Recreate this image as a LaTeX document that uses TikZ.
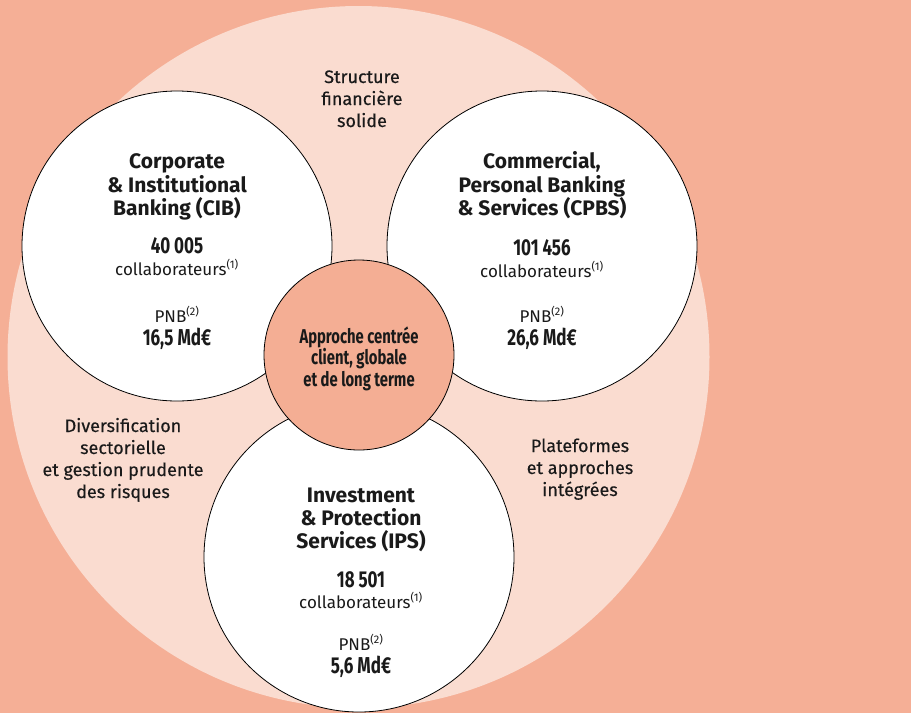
\documentclass[tikz,border=0pt]{standalone}
\usepackage{fontspec}
\setmainfont{Fira Sans}
\setsansfont{Fira Sans}
\newfontfamily\cond[FakeStretch=0.74]{Fira Sans}
\newfontfamily\sidefont[FakeBold=0.35]{Fira Sans}
\definecolor{bgsalmon}{HTML}{F5AF96}
\definecolor{lightpink}{HTML}{FADCD0}
\definecolor{centresalmon}{HTML}{F4AE94}
\definecolor{inktext}{HTML}{1A1A1A}
\tikzset{
  pole/.style={circle,draw=black,line width=0.8pt,fill=white,minimum size=310pt,inner sep=0pt},
  hub/.style={circle,draw=black,line width=0.8pt,fill=centresalmon,minimum size=190pt,inner sep=0pt},
  ttl/.style={anchor=base,inner sep=0pt,text=inktext,font=\fontsize{21}{24}\selectfont\bfseries},
  num/.style={anchor=base,inner sep=0pt,text=inktext,font=\fontsize{23}{26}\selectfont\cond\bfseries},
  lbl/.style={anchor=base,inner sep=0pt,text=inktext,font=\fontsize{17}{20}\selectfont},
  hubtxt/.style={anchor=base,inner sep=0pt,text=inktext,font=\fontsize{20}{22}\selectfont\cond\bfseries},
  side/.style={anchor=base,inner sep=0pt,text=inktext,font=\fontsize{18}{21}\selectfont\sidefont},
}
\newcommand{\supnote}[1]{\textsuperscript{\fontsize{11}{11}\selectfont(#1)}}
\begin{document}
\begin{tikzpicture}[x=1pt,y=-1pt]
\useasboundingbox (0,0) rectangle (911,713);
\fill[bgsalmon] (0,0) rectangle (911,713);
\fill[lightpink] (358.5,357) circle[radius=351];
\node[pole] (cib) at (177,246) {};
\node[pole] (cpbs) at (542,246) {};
\node[pole] (ips) at (359,557) {};
\node[hub] (hub) at (359,355) {};
% hub text
\node[hubtxt] (h1) at (359,343) {Approche centrée};
\node[hubtxt] (h2) at (359,364) {client, globale};
\node[hubtxt] (h3) at (359,386) {et de long terme};
% CIB
\node[ttl] (cib1) at (177,168) {Corporate};
\node[ttl] (cib2) at (177,192) {\& Institutional};
\node[ttl] (cib3) at (177,215) {Banking (CIB)};
\node[num] (cib4) at (177,253) {40\,005};
\node[lbl] (cib5) at (177,275) {collaborateurs\supnote{1}};
\node[lbl] (cib6) at (177,322) {PNB\supnote{2}};
\node[num] (cib7) at (177,345) {16,5 Md€};
% CPBS
\node[ttl] (cp1) at (542,168) {Commercial,};
\node[ttl] (cp2) at (542,192) {Personal Banking};
\node[ttl] (cp3) at (542,215) {\& Services (CPBS)};
\node[num] (cp4) at (542,255) {101\,456};
\node[lbl] (cp5) at (542,277) {collaborateurs\supnote{1}};
\node[lbl] (cp6) at (542,322) {PNB\supnote{2}};
\node[num] (cp7) at (542,345) {26,6 Md€};
% IPS
\node[ttl] (ip1) at (361,502) {Investment};
\node[ttl] (ip2) at (361,525) {\& Protection};
\node[ttl] (ip3) at (361,548) {Services (IPS)};
\node[num] (ip4) at (361,587) {18\,501};
\node[lbl] (ip5) at (361,608) {collaborateurs\supnote{1}};
\node[lbl] (ip6) at (361,650) {PNB\supnote{2}};
\node[num] (ip7) at (361,673) {5,6 Md€};
% side texts
\node[side] (s1) at (362,83) {Structure};
\node[side] (s2) at (362,105) {financière};
\node[side] (s3) at (362,127) {solide};
\node[side] (d1) at (123,432) {Diversification};
\node[side] (d2) at (123,454) {sectorielle};
\node[side] (d3) at (123,476) {et gestion prudente};
\node[side] (d4) at (123,498) {des risques};
\node[side] (p1) at (580,452) {Plateformes};
\node[side] (p2) at (580,474) {et approches};
\node[side] (p3) at (580,496) {intégrées};
\end{tikzpicture}
\end{document}
